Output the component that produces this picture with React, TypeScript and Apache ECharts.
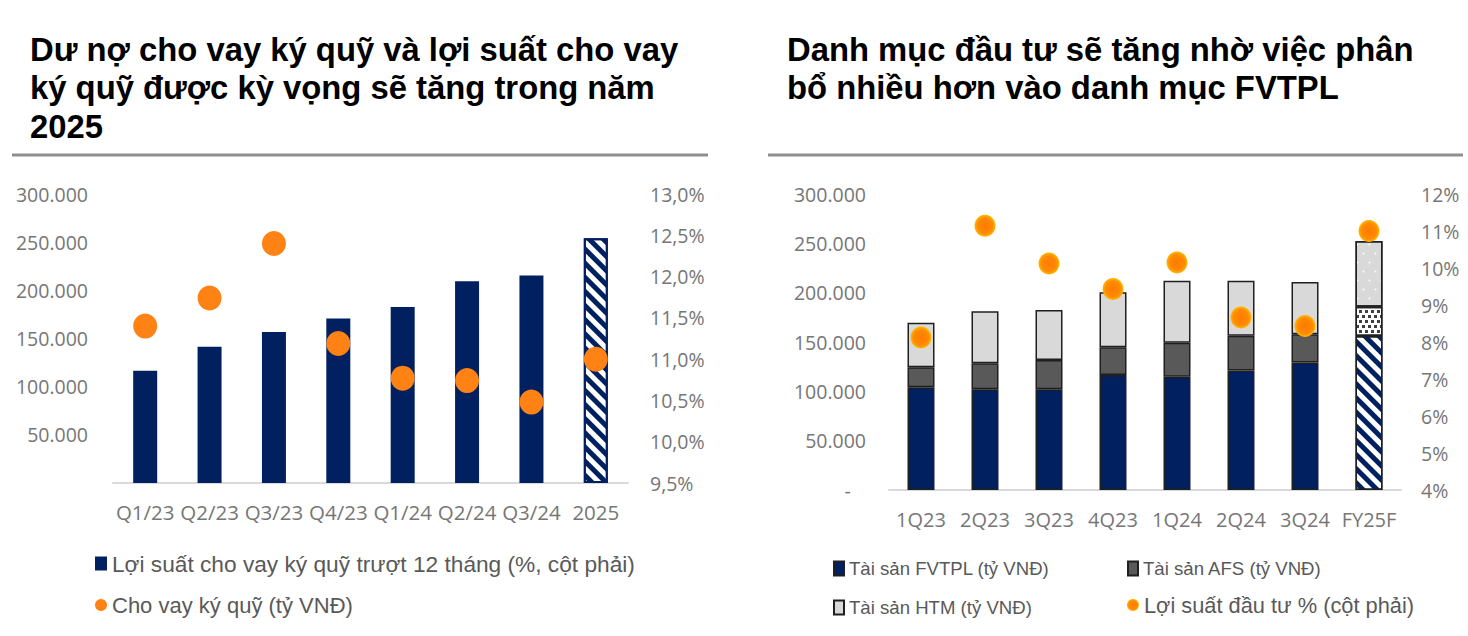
import React, { useEffect, useRef } from 'react';
import * as echarts from 'echarts';

// ---- Left chart data ----
const leftCategories = ['Q1/23', 'Q2/23', 'Q3/23', 'Q4/23', 'Q1/24', 'Q2/24', 'Q3/24', '2025'];
const marginLoan = [116500, 141500, 156700, 170800, 182800, 209300, 215500, 254000];
const marginYield = [11.4, 11.74, 12.4, 11.19, 10.77, 10.74, 10.48, 11.0];

// ---- Right chart data ----
const rightCategories = ['1Q23', '2Q23', '3Q23', '4Q23', '1Q24', '2Q24', '3Q24', 'FY25F'];
const fvtpl = [104100, 102100, 102100, 116600, 114900, 121000, 129100, 156100];
const afs = [20300, 26300, 29700, 28000, 34400, 35400, 28700, 29700];
const htm = [45200, 52700, 50600, 55700, 62900, 55800, 53000, 66600];
const investYield = [8.12, 11.14, 10.12, 9.43, 10.15, 8.66, 8.43, 11.0];

// ---- Axis ranges ----
const leftAmountAxis = { min: 0, max: 300000, interval: 50000 };
const leftPctAxis = { min: 9.5, max: 13, interval: 0.5 };
const rightAmountAxis = { min: 0, max: 300000, interval: 50000 };
const rightPctAxis = { min: 4, max: 12, interval: 1 };

// ---- Texts ----
const leftTitle = 'Dư nợ cho vay ký quỹ và lợi suất cho vay\nký quỹ được kỳ vọng sẽ tăng trong năm\n2025';
const rightTitle = 'Danh mục đầu tư sẽ tăng nhờ việc phân\nbổ nhiều hơn vào danh mục FVTPL';
const nameLoanBar = 'Lợi suất cho vay ký quỹ trượt 12 tháng (%, cột phải)';
const nameYieldDot = 'Cho vay ký quỹ (tỷ VNĐ)';
const nameFVTPL = 'Tài sản FVTPL (tỷ VNĐ)';
const nameAFS = 'Tài sản AFS (tỷ VNĐ)';
const nameHTM = 'Tài sản HTM (tỷ VNĐ)';
const nameInvYield = 'Lợi suất đầu tư % (cột phải)';

const NAVY = '#002060';
const AXIS_TEXT = '#767676';
const LEGEND_TEXT = '#595959';
const TICK_FONT = "'Open Sans', 'Liberation Sans', sans-serif";
const SANS = "'Liberation Sans', Arial, sans-serif";

const thousands = (v: number) => String(Math.round(v)).replace(/\B(?=(\d{3})+(?!\d))/g, '.');

const stripeDecal = {
  symbol: 'rect',
  symbolSize: 1,
  dashArrayX: [1, 0],
  dashArrayY: [5, 5],
  rotation: Math.PI / 4,
  color: NAVY,
  backgroundColor: '#ffffff',
};
const dotDecal = {
  symbol: 'rect',
  symbolSize: 1,
  dashArrayX: [[3, 3], [0, 3, 3, 0]],
  dashArrayY: [3, 2],
  color: '#404040',
  backgroundColor: '#ffffff',
};
const lightDotDecal = {
  symbol: 'circle',
  symbolSize: 0.6,
  dashArrayX: [[3, 9], [0, 6, 3, 3]],
  dashArrayY: [3, 6],
  color: '#ffffff',
  backgroundColor: '#D9D9D9',
};

const orangeGradient = {
  type: 'radial',
  x: 0.5,
  y: 0.5,
  r: 0.5,
  colorStops: [
    { offset: 0, color: '#FF7A00' },
    { offset: 0.7, color: '#FF8A00' },
    { offset: 1, color: '#FFB800' },
  ],
};

const legendBase = { selectedMode: false, padding: 0 };

export default function App() {
  const ref = useRef<HTMLDivElement>(null);

  useEffect(() => {
    if (!ref.current) return;
    const chart = echarts.init(ref.current, undefined, { renderer: 'svg' });
    const lastIdx = leftCategories.length - 1;
    const rLast = rightCategories.length - 1;

    const titleStyle = { fontFamily: SANS, fontWeight: 'bold', fontSize: 32.8, lineHeight: 38.5, color: '#000' };

    const option: any = {
      animation: false,
      backgroundColor: '#ffffff',
      title: [
        { text: leftTitle, left: 25, top: 25, textStyle: titleStyle },
        { text: rightTitle, left: 782, top: 25, textStyle: titleStyle },
      ],
      graphic: [
        { type: 'line', shape: { x1: 12, y1: 155, x2: 708, y2: 155 }, style: { stroke: '#8f8f8f', lineWidth: 3 } },
        { type: 'line', shape: { x1: 768, y1: 155, x2: 1463, y2: 155 }, style: { stroke: '#8f8f8f', lineWidth: 3 } },
      ],
      legend: [
        {
          ...legendBase,
          data: [{ name: nameLoanBar, icon: 'rect' }],
          left: 95, top: 552, itemWidth: 12, itemHeight: 14,
          textStyle: { fontFamily: SANS, fontSize: 22.7, color: LEGEND_TEXT },
        },
        {
          ...legendBase,
          data: [{ name: nameYieldDot, icon: 'circle' }],
          left: 95, top: 594, itemWidth: 12, itemHeight: 14,
          textStyle: { fontFamily: SANS, fontSize: 22, color: LEGEND_TEXT },
        },
        {
          ...legendBase,
          data: [{ name: nameFVTPL, icon: 'rect' }],
          left: 833, top: 559, itemWidth: 10, itemHeight: 14,
          textStyle: { fontFamily: SANS, fontSize: 18.6, color: LEGEND_TEXT },
        },
        {
          ...legendBase,
          data: [{ name: nameAFS, icon: 'rect' }],
          left: 1127, top: 559, itemWidth: 10, itemHeight: 14,
          textStyle: { fontFamily: SANS, fontSize: 18.6, color: LEGEND_TEXT },
        },
        {
          ...legendBase,
          data: [{ name: nameHTM, icon: 'rect' }],
          left: 833, top: 598, itemWidth: 10, itemHeight: 14,
          textStyle: { fontFamily: SANS, fontSize: 18.6, color: LEGEND_TEXT },
        },
        {
          ...legendBase,
          data: [{ name: nameInvYield, icon: 'circle' }],
          left: 1127, top: 594, itemWidth: 12, itemHeight: 16,
          textStyle: { fontFamily: SANS, fontSize: 21.8, color: LEGEND_TEXT },
        },
      ],
      grid: [
        { left: 113, top: 194, width: 515, height: 289 },
        { left: 889, top: 194, width: 512, height: 296 },
      ],
      xAxis: [
        {
          type: 'category', gridIndex: 0, data: leftCategories,
          axisLine: { lineStyle: { color: '#D9D9D9', width: 2 } },
          axisTick: { show: false },
          axisLabel: { interval: 0, color: AXIS_TEXT, fontFamily: TICK_FONT, fontSize: 20.5, margin: 18 },
        },
        {
          type: 'category', gridIndex: 1, data: rightCategories,
          axisLine: { lineStyle: { color: '#D9D9D9', width: 2 } },
          axisTick: { show: false },
          axisLabel: { interval: 0, color: AXIS_TEXT, fontFamily: TICK_FONT, fontSize: 20, margin: 19 },
        },
      ],
      yAxis: [
        {
          type: 'value', gridIndex: 0, position: 'left', ...leftAmountAxis,
          splitLine: { show: false }, axisLine: { show: false }, axisTick: { show: false },
          axisLabel: { color: AXIS_TEXT, fontFamily: TICK_FONT, fontSize: 19.5, margin: 25,
            formatter: (v: number) => (v === 0 ? '' : thousands(v)) },
        },
        {
          type: 'value', gridIndex: 0, position: 'right', ...leftPctAxis,
          splitLine: { show: false }, axisLine: { show: false }, axisTick: { show: false },
          axisLabel: { color: AXIS_TEXT, fontFamily: TICK_FONT, fontSize: 19.5, margin: 22,
            formatter: (v: number) => v.toFixed(1).replace('.', ',') + '%' },
        },
        {
          type: 'value', gridIndex: 1, position: 'left', ...rightAmountAxis,
          splitLine: { show: false }, axisLine: { show: false }, axisTick: { show: false },
          axisLabel: { color: AXIS_TEXT, fontFamily: TICK_FONT, fontSize: 19.5, margin: 23,
            formatter: (v: number) => (v === 0 ? '-   ' : thousands(v)) },
        },
        {
          type: 'value', gridIndex: 1, position: 'right', ...rightPctAxis,
          splitLine: { show: false }, axisLine: { show: false }, axisTick: { show: false },
          axisLabel: { color: AXIS_TEXT, fontFamily: TICK_FONT, fontSize: 19.5, margin: 20,
            formatter: (v: number) => v + '%' },
        },
      ],
      series: [
        {
          name: nameLoanBar, type: 'bar', xAxisIndex: 0, yAxisIndex: 0, barWidth: 24,
          itemStyle: { color: NAVY },
          data: marginLoan.map((v, i) =>
            i === lastIdx
              ? { value: v, itemStyle: { color: '#ffffff', borderColor: NAVY, borderWidth: 2, decal: stripeDecal } }
              : v
          ),
        },
        {
          name: nameYieldDot, type: 'scatter', xAxisIndex: 0, yAxisIndex: 1, symbol: 'circle',
          symbolSize: [24, 25], itemStyle: { color: '#FF8214', opacity: 1 }, z: 5,
          data: marginYield,
        },
        {
          name: nameFVTPL, type: 'bar', stack: 'portfolio', xAxisIndex: 1, yAxisIndex: 2, barWidth: 27,
          itemStyle: { color: NAVY, borderColor: '#1f1f1f', borderWidth: 1.5 },
          data: fvtpl.map((v, i) =>
            i === rLast ? { value: v, itemStyle: { color: '#ffffff', decal: stripeDecal } } : v
          ),
        },
        {
          name: nameAFS, type: 'bar', stack: 'portfolio', xAxisIndex: 1, yAxisIndex: 2, barWidth: 27,
          itemStyle: { color: '#595959', borderColor: '#1f1f1f', borderWidth: 1.5 },
          data: afs.map((v, i) =>
            i === rLast ? { value: v, itemStyle: { color: '#ffffff', decal: dotDecal } } : v
          ),
        },
        {
          name: nameHTM, type: 'bar', stack: 'portfolio', xAxisIndex: 1, yAxisIndex: 2, barWidth: 27,
          itemStyle: { color: '#D9D9D9', borderColor: '#1f1f1f', borderWidth: 1.5 },
          data: htm.map((v, i) =>
            i === rLast ? { value: v, itemStyle: { color: '#D9D9D9', decal: lightDotDecal } } : v
          ),
        },
        {
          name: nameInvYield, type: 'scatter', xAxisIndex: 1, yAxisIndex: 3, symbol: 'circle',
          symbolSize: [21, 22], itemStyle: { color: orangeGradient, opacity: 1 }, z: 5,
          data: investYield,
        },
      ],
    };

    chart.setOption(option);
    return () => chart.dispose();
  }, []);

  return (
    <div
      ref={ref}
      style={{ position: 'absolute', left: 0, top: 0, width: 1468, height: 636, background: '#fff' }}
    />
  );
}
